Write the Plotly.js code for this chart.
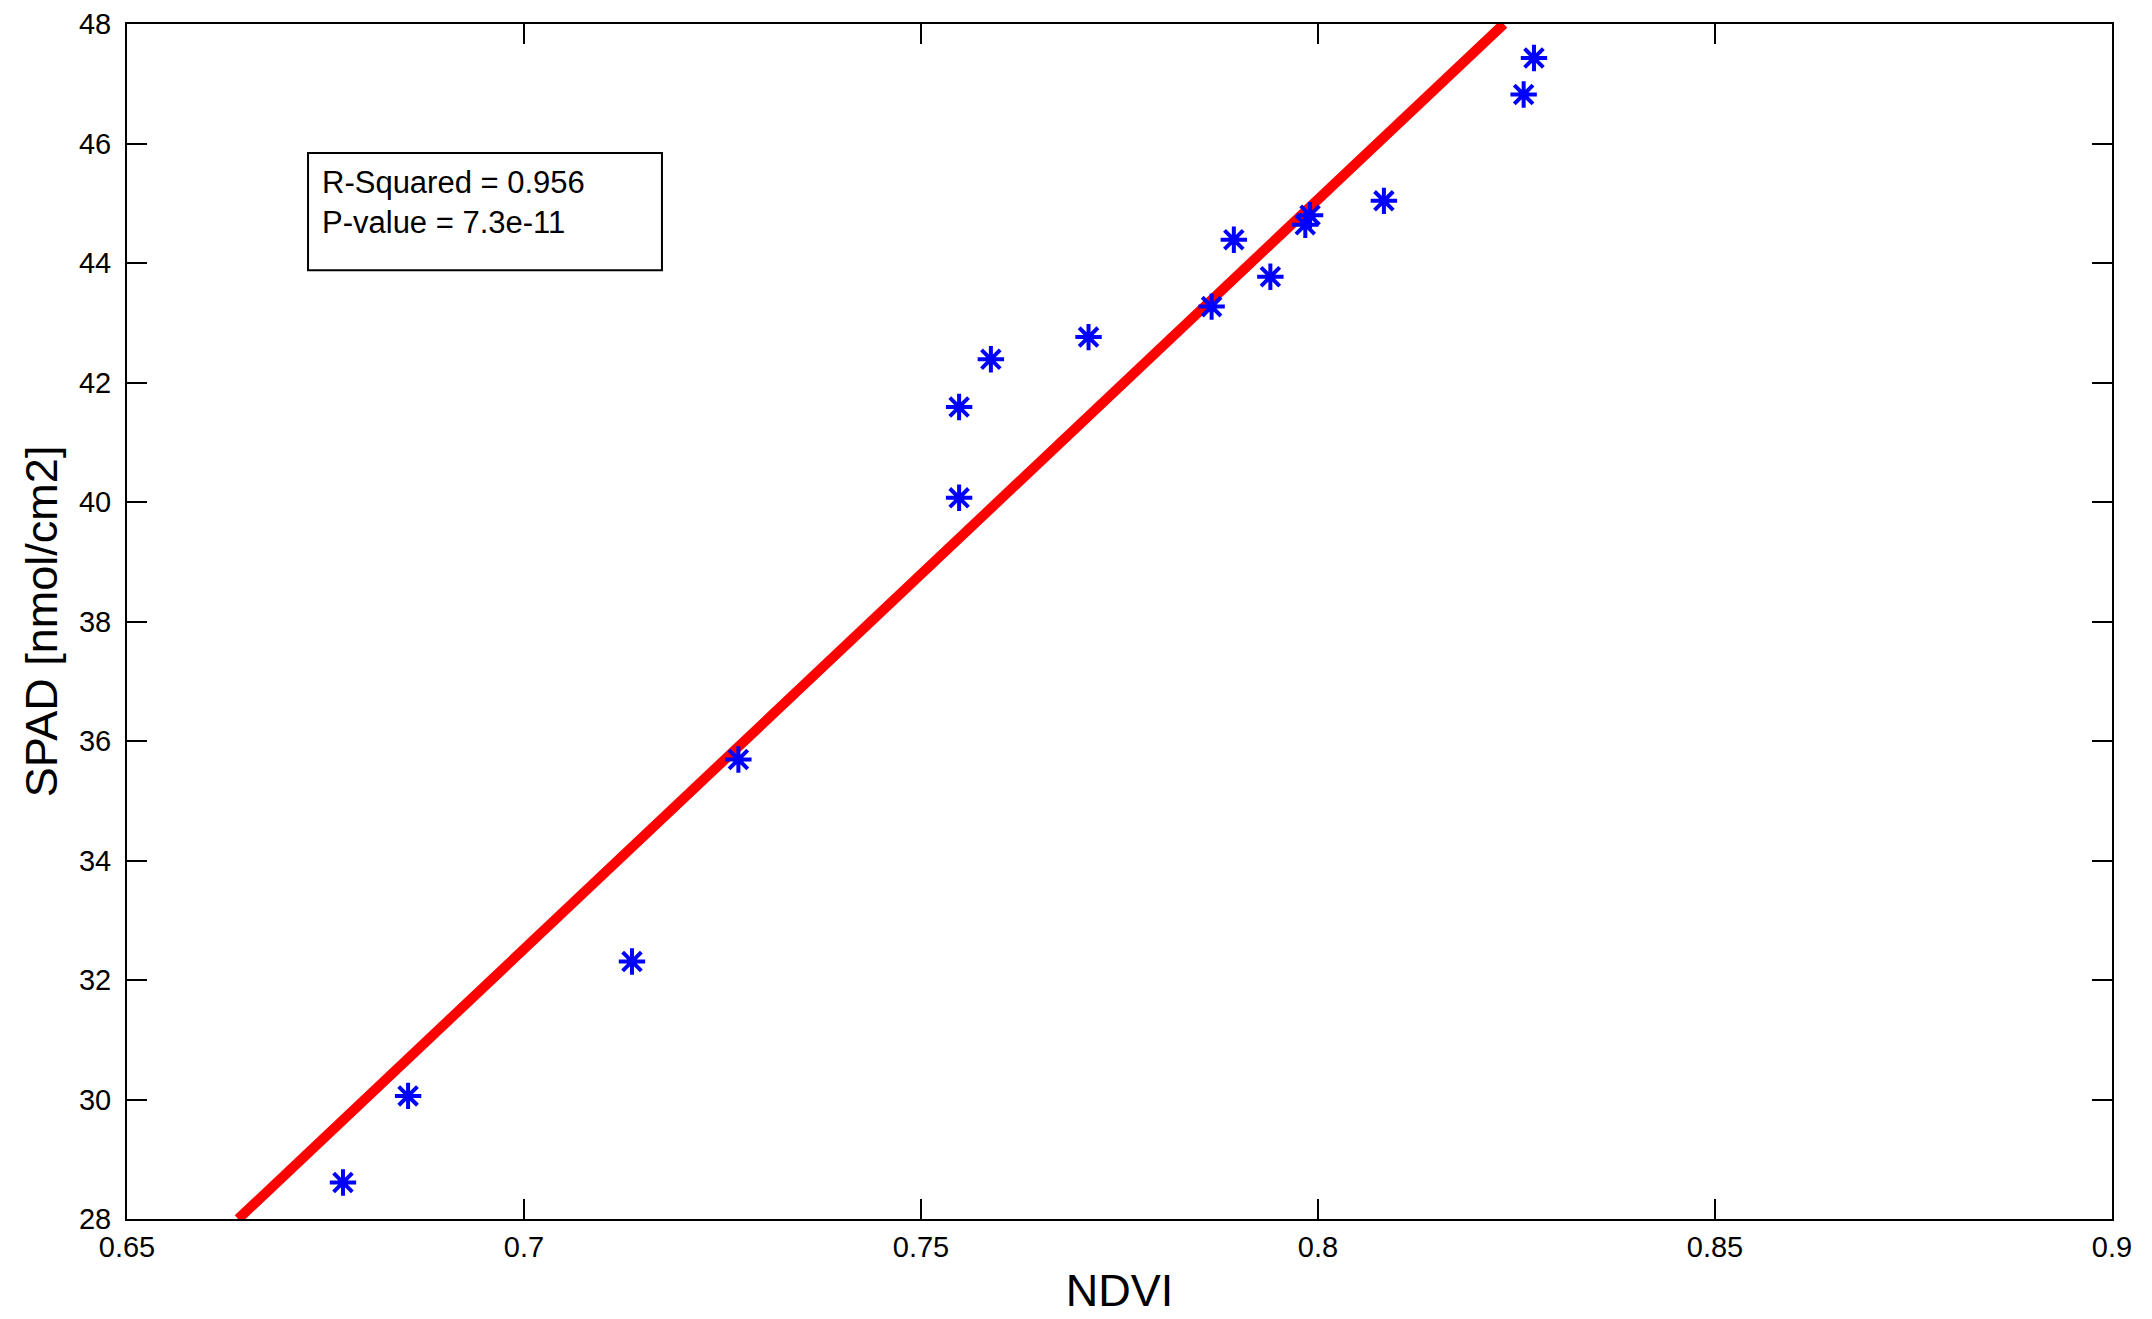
<!DOCTYPE html>
<html>
<head>
<meta charset="utf-8">
<script src="https://cdn.plot.ly/plotly-3.0.1.min.js"></script>
<style>html,body{margin:0;padding:0;background:#fff;}#chart{width:2152px;height:1319px;}</style>
</head>
<body>
<div id="chart"></div>
<script>
// Measured samples (NDVI vs SPAD)
const ndvi = [0.6772, 0.6854, 0.7136, 0.7270, 0.7548, 0.7548, 0.7588, 0.7711, 0.7866, 0.7894, 0.7940, 0.7984, 0.7990, 0.8083, 0.8259, 0.8272];
const spad = [28.61, 30.06, 32.31, 35.69, 40.07, 41.59, 42.39, 42.76, 43.27, 44.39, 43.77, 44.64, 44.80, 45.04, 46.82, 47.43];

// Regression line end points
const fitNdvi = [0.6640, 0.8234];
const fitSpad = [28, 48];

// Axis ticks
const xTicks = [0.65, 0.7, 0.75, 0.8, 0.85, 0.9];
const xTickText = ["0.65", "0.7", "0.75", "0.8", "0.85", "0.9"];
const yTicks = [28, 30, 32, 34, 36, 38, 40, 42, 44, 46, 48];

const statsLines = ["R-Squared = 0.956", "P-value = 7.3e-11"];

const FONT = "Liberation Sans, Arial, Helvetica, sans-serif";

const traces = [
  {
    x: fitNdvi, y: fitSpad, type: "scatter", mode: "lines",
    line: {color: "#ff0000", width: 10},
    hoverinfo: "skip", showlegend: false
  },
  {
    x: ndvi, y: spad, type: "scatter", mode: "markers",
    marker: {symbol: "asterisk-open", size: 22, color: "#0000ff", line: {color: "#0000ff", width: 4}},
    showlegend: false, cliponaxis: false
  }
];

const axisCommon = {
  showline: true, linecolor: "#000", linewidth: 2, mirror: "ticks",
  ticks: "inside", ticklen: 20, tickwidth: 2, tickcolor: "#000",
  showgrid: false, zeroline: false,
  tickfont: {family: FONT, size: 29, color: "#000"}
};

const layout = {
  width: 2152, height: 1319,
  margin: {l: 127, r: 40, t: 24, b: 100, pad: 0},
  paper_bgcolor: "#fff", plot_bgcolor: "#fff",
  font: {family: FONT, color: "#000"},
  xaxis: Object.assign({}, axisCommon, {
    range: [0.65, 0.9], tickmode: "array", tickvals: xTicks, ticktext: xTickText,
    ticklabelstandoff: 1,
    title: {text: "NDVI", font: {family: FONT, size: 45, color: "#000"}, standoff: 13}
  }),
  yaxis: Object.assign({}, axisCommon, {
    range: [28, 48], tickmode: "array", tickvals: yTicks,
    ticklabelstandoff: 8,
    title: {text: "SPAD [nmol/cm2]", font: {family: FONT, size: 45, color: "#000"}, standoff: 7}
  }),
  shapes: [{
    type: "rect", xref: "paper", yref: "paper",
    x0: 0.0912, x1: 0.2695, y0: 0.794, y1: 0.892,
    line: {color: "#000", width: 2}, fillcolor: "#fff", layer: "above"
  }],
  annotations: [{
    xref: "paper", yref: "paper", x: 0.097, y: 0.884,
    xanchor: "left", yanchor: "top", align: "left", showarrow: false,
    text: statsLines.join("<br>"),
    font: {family: FONT, size: 31, color: "#000"}
  }]
};

Plotly.newPlot("chart", traces, layout, {displayModeBar: false, staticPlot: true});
</script>
</body>
</html>
